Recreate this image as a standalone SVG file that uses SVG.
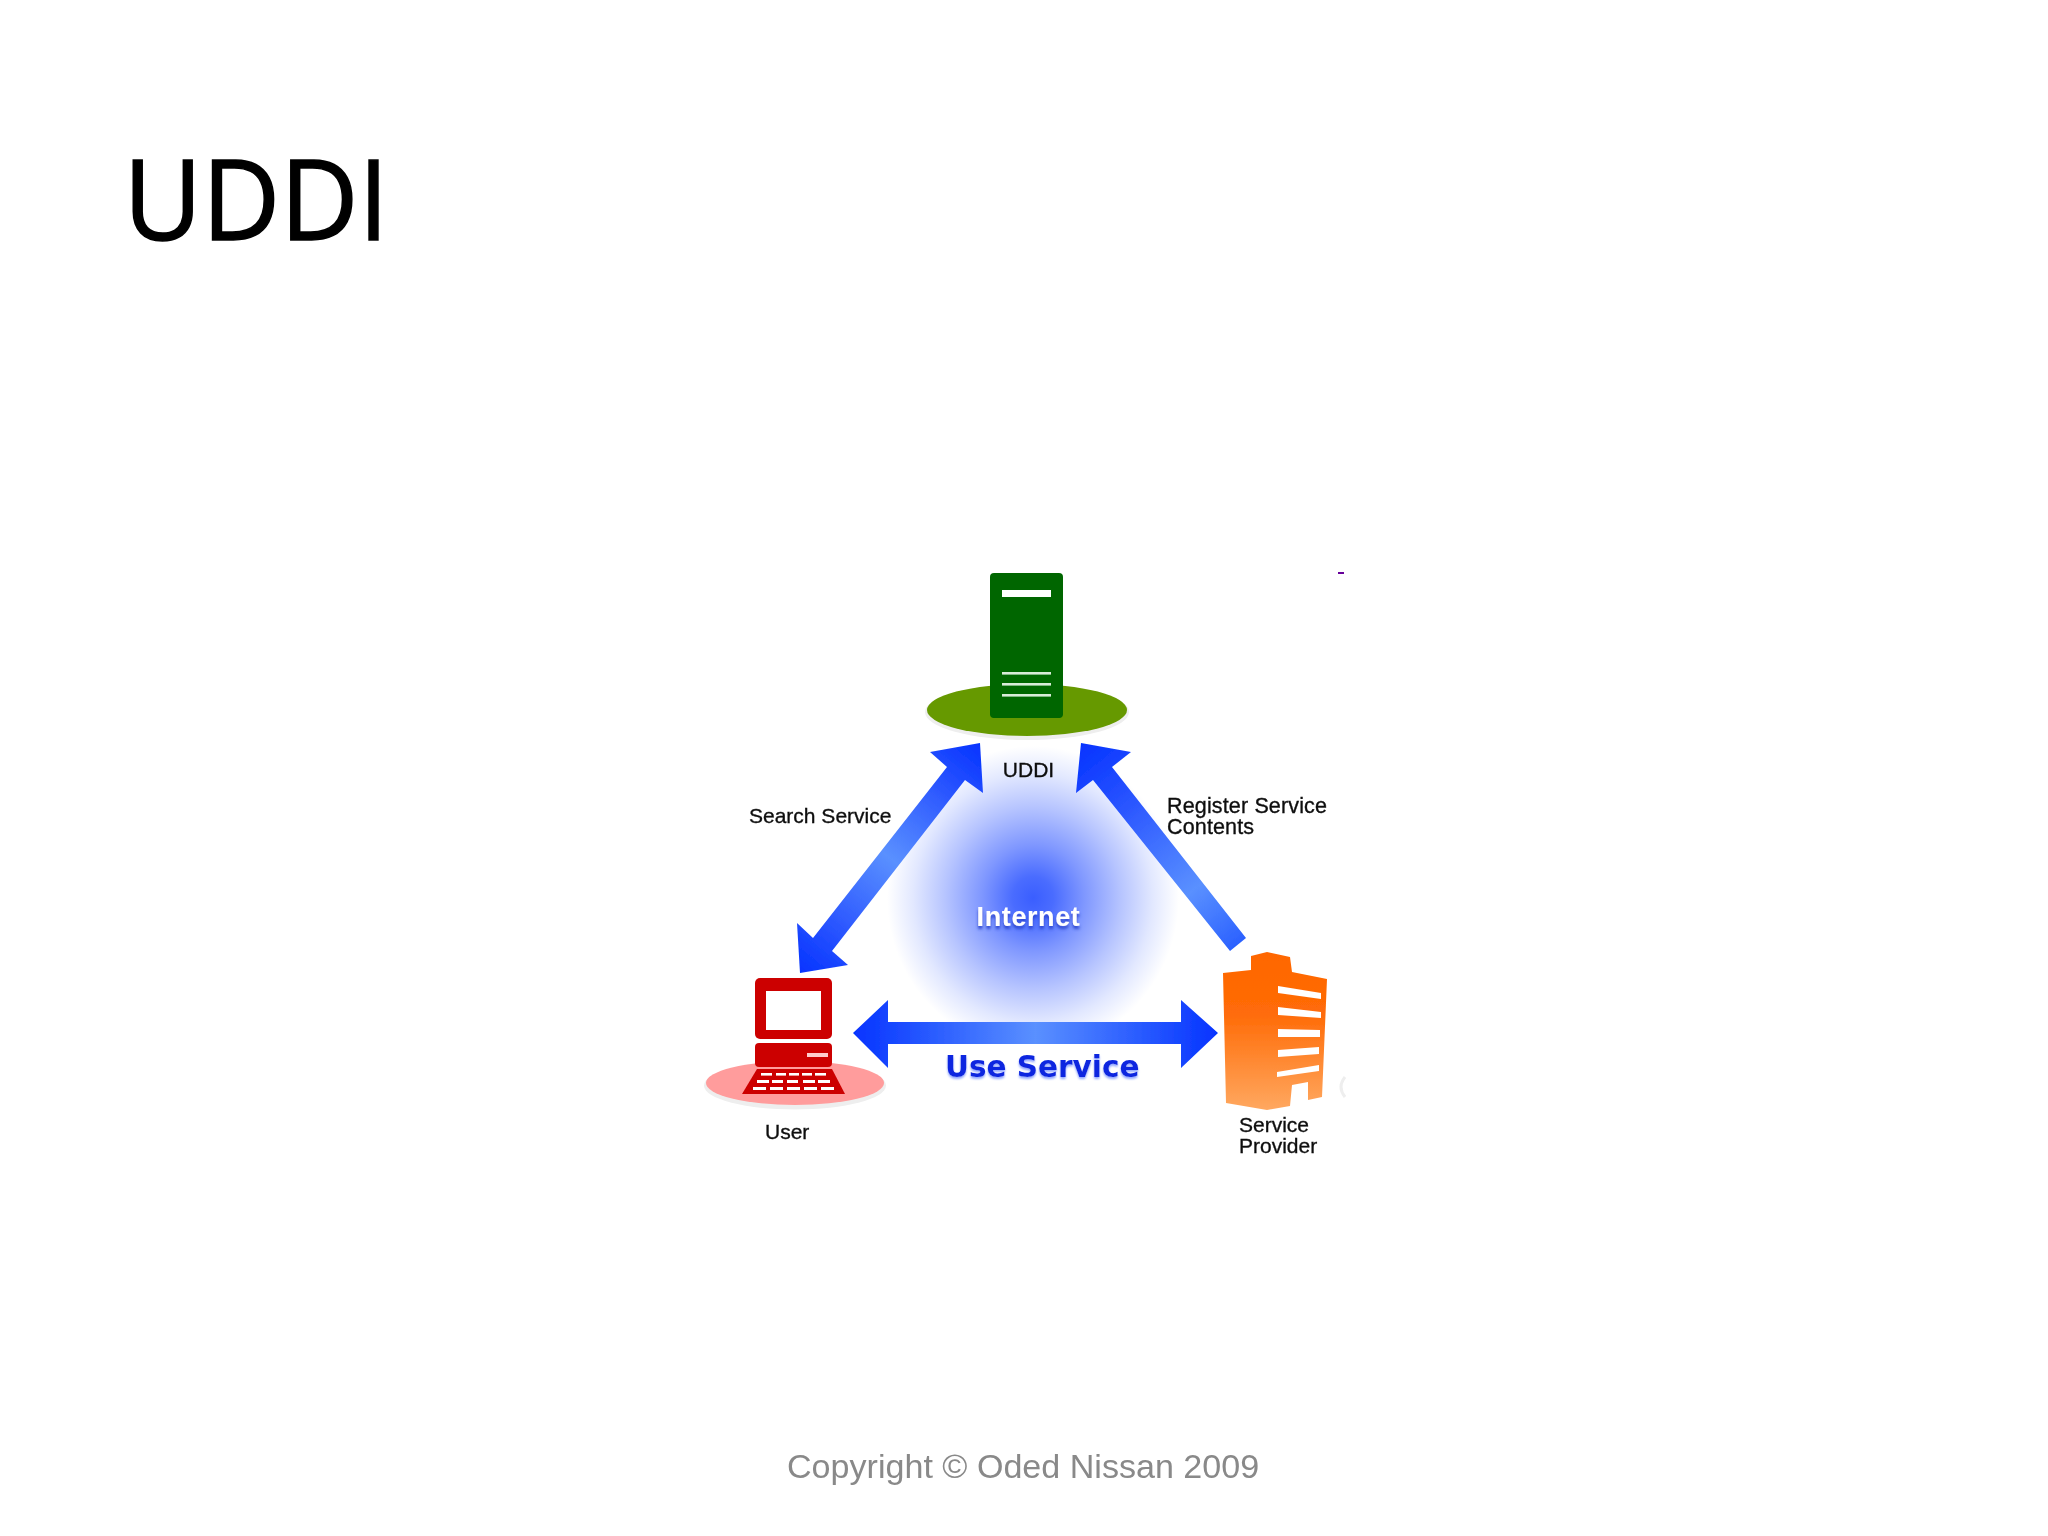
<svg xmlns="http://www.w3.org/2000/svg" width="2048" height="1536" viewBox="0 0 2048 1536">
<style>
.lbl{font-family:"Liberation Sans",Arial,sans-serif;font-size:21px;fill:#111;stroke:#111;stroke-width:.35px}
.key{fill:#fff}
.win{fill:#fff}
</style>
<defs>
<filter id="soft" x="-5%" y="-5%" width="110%" height="110%"><feGaussianBlur stdDeviation="0.7"/></filter>
<filter id="softText" x="-10%" y="-20%" width="120%" height="140%"><feGaussianBlur stdDeviation="0.5"/></filter>
<filter id="useShadow" x="-10%" y="-20%" width="120%" height="150%"><feGaussianBlur in="SourceAlpha" stdDeviation="1"/><feOffset dx="0" dy="2" result="o"/><feFlood flood-color="#8fa5ff"/><feComposite operator="in" in2="o" result="s"/><feGaussianBlur in="SourceGraphic" stdDeviation="0.4" result="t"/><feMerge><feMergeNode in="s"/><feMergeNode in="t"/></feMerge></filter>
<filter id="netShadow" x="-10%" y="-20%" width="120%" height="160%"><feGaussianBlur in="SourceAlpha" stdDeviation="1.5"/><feOffset dx="0" dy="3" result="o"/><feFlood flood-color="#2a44cc"/><feComposite operator="in" in2="o" result="s"/><feGaussianBlur in="SourceGraphic" stdDeviation="0.4" result="t"/><feMerge><feMergeNode in="s"/><feMergeNode in="t"/></feMerge></filter>
<clipPath id="netClip"><rect x="860" y="740" width="340" height="283"/></clipPath>
<radialGradient id="netFix" cx="0.5" cy="0.5" r="0.5">
<stop offset="0" stop-color="#3a5eff"/><stop offset="0.14" stop-color="#4a6cff"/><stop offset="0.35" stop-color="#7f97ff"/><stop offset="0.6" stop-color="#b6c4ff"/><stop offset="0.82" stop-color="#e2e8ff"/><stop offset="1" stop-color="#ffffff"/>
</radialGradient>
<linearGradient id="arrowL" gradientUnits="userSpaceOnUse" x1="980" y1="743" x2="800" y2="973">
<stop offset="0" stop-color="#0533ff"/><stop offset="0.2" stop-color="#2a55ff"/><stop offset="0.5" stop-color="#5a90ff"/><stop offset="0.8" stop-color="#2a55ff"/><stop offset="1" stop-color="#0533ff"/>
</linearGradient>
<linearGradient id="arrowR" gradientUnits="userSpaceOnUse" x1="1081" y1="743" x2="1240" y2="945">
<stop offset="0" stop-color="#0533ff"/><stop offset="0.3" stop-color="#2a55ff"/><stop offset="0.72" stop-color="#5a90ff"/><stop offset="1" stop-color="#2a60ff"/>
</linearGradient>
<linearGradient id="arrowH" gradientUnits="userSpaceOnUse" x1="853" y1="0" x2="1218" y2="0">
<stop offset="0" stop-color="#0533ff"/><stop offset="0.5" stop-color="#5a90ff"/><stop offset="1" stop-color="#0533ff"/>
</linearGradient>
<linearGradient id="bld" x1="0" y1="0" x2="0" y2="1">
<stop offset="0" stop-color="#ff6600"/><stop offset="0.4" stop-color="#ff6c08"/><stop offset="1" stop-color="#ffa860"/>
</linearGradient>
</defs>

<rect width="2048" height="1536" fill="#fff"/>

<text id="title" x="123.5" y="239.5" font-family="'Open Sans','Noto Sans',sans-serif" font-size="111" fill="#000" stroke="#000" stroke-width="1.5" textLength="265" lengthAdjust="spacingAndGlyphs">UDDI</text>

<g id="internet">
<ellipse cx="1033" cy="898" rx="146" ry="152" fill="url(#netFix)" clip-path="url(#netClip)"/>
<text x="1028.5" y="926" text-anchor="middle" font-family="'Liberation Sans',Arial,sans-serif" font-weight="bold" font-size="27px" letter-spacing="0.6" fill="#fff" filter="url(#netShadow)">Internet</text>
</g>

<g id="connectors" filter="url(#soft)">
<polygon id="search-arrow" fill="url(#arrowL)" points="980,743 930,752 947,767 813,938 797,923 800,973 848,965 832,951 965,780 983,793"/>
<polygon id="register-arrow" fill="url(#arrowR)" points="1081,743 1131,752 1112,767 1246,938 1230,951 1093,780 1076,793"/>
<polygon id="use-arrow" fill="url(#arrowH)" points="853,1033 888,1000 888,1022 1181,1022 1181,1000 1218,1033 1181,1068 1181,1044 888,1044 888,1068"/>
</g>

<g id="node-uddi" filter="url(#soft)">
<ellipse cx="1027" cy="712" rx="102" ry="28" fill="#eeeeee"/>
<ellipse cx="1027" cy="710" rx="100" ry="26" fill="#669900"/>
<rect x="995" y="573" width="73" height="145" rx="4" fill="#006600" transform="translate(-5 0)"/>
<rect x="1002" y="590" width="49" height="7" fill="#fff"/>
<rect x="1002" y="672" width="49" height="2.6" fill="#d8ecd8"/>
<rect x="1002" y="683" width="49" height="2.6" fill="#d8ecd8"/>
<rect x="1002" y="694" width="49" height="2.6" fill="#d8ecd8"/>
</g>
<text class="lbl" x="1028.5" y="777" text-anchor="middle" filter="url(#softText)">UDDI</text>

<g id="node-user" filter="url(#soft)">
<ellipse cx="795" cy="1085.5" rx="91" ry="24" fill="#eeeeee"/>
<ellipse cx="795" cy="1083" rx="89" ry="22" fill="#ff9c9c"/>
<rect x="755" y="978" width="77" height="61" rx="5" fill="#cc0000"/>
<rect x="766" y="991" width="55" height="39" fill="#fff"/>
<rect x="755" y="1043" width="77" height="24" rx="4" fill="#cc0000"/>
<rect x="807" y="1053" width="21" height="4" fill="#ffcccc"/>
<polygon points="757,1069 832,1069 845,1094 742,1094" fill="#cc0000"/>
<g class="key">
<rect x="761" y="1073" width="11" height="2.6"/><rect x="776" y="1073" width="10" height="2.6"/><rect x="789" y="1073" width="10" height="2.6"/><rect x="802" y="1073" width="10" height="2.6"/><rect x="815" y="1073" width="11" height="2.6"/>
<rect x="757" y="1080" width="12" height="3"/><rect x="772" y="1080" width="11" height="3"/><rect x="787" y="1080" width="11" height="3"/><rect x="803" y="1080" width="12" height="3"/><rect x="818" y="1080" width="12" height="3"/>
<rect x="753" y="1087" width="13" height="3"/><rect x="770" y="1087" width="13" height="3"/><rect x="787" y="1087" width="13" height="3"/><rect x="804" y="1087" width="13" height="3"/><rect x="821" y="1087" width="13" height="3"/>
</g>
</g>
<text class="lbl" x="765" y="1139" filter="url(#softText)">User</text>

<g id="node-provider" filter="url(#soft)">
<polygon fill="url(#bld)" points="1223,973 1251,970 1251,956 1267,952 1290,957 1292,972 1327,979 1322,1097 1308,1100 1308,1082 1292,1085 1290,1106 1267,1110 1226,1103"/>
<polygon class="win" points="1278,986 1321,993 1321,999 1278,993"/>
<polygon class="win" points="1278,1007 1321,1012 1321,1018 1278,1015"/>
<polygon class="win" points="1278,1029 1320,1030 1320,1037 1278,1037"/>
<polygon class="win" points="1278,1050 1319,1047 1319,1054 1278,1057"/>
<polygon class="win" points="1277,1072 1319,1065 1319,1071 1277,1077"/>
</g>
<g filter="url(#softText)">
<text class="lbl" x="1239" y="1132">Service</text>
<text class="lbl" x="1239" y="1153">Provider</text>
</g>

<g filter="url(#softText)">
<text class="lbl" x="749" y="823">Search Service</text>
<text class="lbl" x="1167" y="812.5" style="font-size:21.5px;letter-spacing:.15px">Register Service</text>
<text class="lbl" x="1167" y="834" style="font-size:21.5px;letter-spacing:.15px">Contents</text>
</g>
<text x="945" y="1077" font-family="'DejaVu Sans',Verdana,sans-serif" font-weight="bold" font-size="29.5px" fill="#0a28e0" filter="url(#useShadow)">Use Service</text>

<path d="M1345,1077 Q1337,1087 1345,1097" fill="none" stroke="#eeeeee" stroke-width="3"/>
<rect x="1338" y="572" width="6" height="2" fill="#660099"/>

<text id="copyright" x="787" y="1478" font-family="'Liberation Sans',Arial,sans-serif" font-size="34.1px" fill="#898989">Copyright © Oded Nissan 2009</text>
</svg>
